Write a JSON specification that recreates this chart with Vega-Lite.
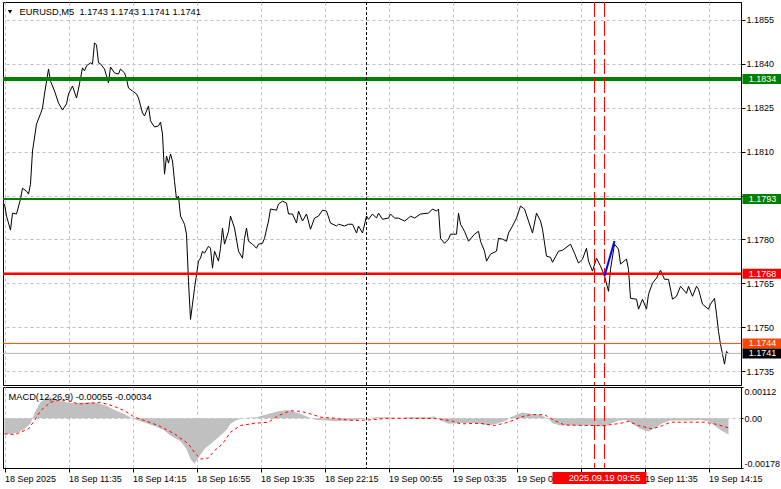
{
 "$schema": "https://vega.github.io/schema/vega-lite/v6.json",
 "padding": {"left": 0, "top": 1, "right": 0, "bottom": 0},
 "background": "#ffffff",
 "spacing": 2,
 "bounds": "flush",
 "config": {
  "font": "Liberation Sans",
  "view": {"stroke": "#000000", "strokeWidth": 1},
  "axis": {"labelFont": "Liberation Sans", "labelFontSize": 9, "labelColor": "#000000", "tickColor": "#000000", "domainColor": "#000000", "gridColor": "#c0c0c0", "gridDash": [3, 3], "gridWidth": 1, "tickSize": 4, "labelPadding": 2, "labelOverlap": false},
  "text": {"font": "Liberation Sans", "fontSize": 9}
 },
 "datasets": {
  "one": [{}],
  "price": [
   {"t":"2025-09-18T08:55Z","p":1.17921},{"t":"2025-09-18T09:00Z","p":1.1788},{"t":"2025-09-18T09:10Z","p":1.17832},{"t":"2025-09-18T09:15Z","p":1.1789},{"t":"2025-09-18T09:25Z","p":1.17887},{"t":"2025-09-18T09:35Z","p":1.17938},{"t":"2025-09-18T09:40Z","p":1.17975},{"t":"2025-09-18T09:50Z","p":1.17965},{"t":"2025-09-18T09:55Z","p":1.17955},{"t":"2025-09-18T10:00Z","p":1.17989},{"t":"2025-09-18T10:05Z","p":1.18102},{"t":"2025-09-18T10:15Z","p":1.18194},{"t":"2025-09-18T10:25Z","p":1.18229},{"t":"2025-09-18T10:30Z","p":1.18249},{"t":"2025-09-18T10:35Z","p":1.18297},{"t":"2025-09-18T10:45Z","p":1.18382},{"t":"2025-09-18T10:50Z","p":1.18341},{"t":"2025-09-18T11:00Z","p":1.18307},{"t":"2025-09-18T11:10Z","p":1.18266},{"t":"2025-09-18T11:20Z","p":1.18242},{"t":"2025-09-18T11:30Z","p":1.18263},{"t":"2025-09-18T11:35Z","p":1.18297},{"t":"2025-09-18T11:45Z","p":1.18324},{"t":"2025-09-18T11:55Z","p":1.18283},{"t":"2025-09-18T12:00Z","p":1.18314},{"t":"2025-09-18T12:10Z","p":1.18386},{"t":"2025-09-18T12:15Z","p":1.18376},{"t":"2025-09-18T12:20Z","p":1.18393},{"t":"2025-09-18T12:30Z","p":1.18403},{"t":"2025-09-18T12:35Z","p":1.184},{"t":"2025-09-18T12:40Z","p":1.18471},{"t":"2025-09-18T12:45Z","p":1.18465},{"t":"2025-09-18T12:50Z","p":1.18403},{"t":"2025-09-18T12:55Z","p":1.184},{"t":"2025-09-18T13:05Z","p":1.18382},{"t":"2025-09-18T13:15Z","p":1.18335},{"t":"2025-09-18T13:20Z","p":1.18389},{"t":"2025-09-18T13:30Z","p":1.18369},{"t":"2025-09-18T13:40Z","p":1.18365},{"t":"2025-09-18T13:45Z","p":1.18382},{"t":"2025-09-18T13:55Z","p":1.18369},{"t":"2025-09-18T14:00Z","p":1.18348},{"t":"2025-09-18T14:05Z","p":1.18317},{"t":"2025-09-18T14:15Z","p":1.18307},{"t":"2025-09-18T14:25Z","p":1.18297},{"t":"2025-09-18T14:30Z","p":1.18283},{"t":"2025-09-18T14:40Z","p":1.18232},{"t":"2025-09-18T14:45Z","p":1.18222},{"t":"2025-09-18T14:55Z","p":1.18256},{"t":"2025-09-18T15:00Z","p":1.18205},{"t":"2025-09-18T15:10Z","p":1.18184},{"t":"2025-09-18T15:20Z","p":1.18188},{"t":"2025-09-18T15:25Z","p":1.18201},{"t":"2025-09-18T15:30Z","p":1.1816},{"t":"2025-09-18T15:35Z","p":1.18023},{"t":"2025-09-18T15:40Z","p":1.18085},{"t":"2025-09-18T15:45Z","p":1.18061},{"t":"2025-09-18T15:50Z","p":1.18092},{"t":"2025-09-18T15:55Z","p":1.18068},{"t":"2025-09-18T16:00Z","p":1.17999},{"t":"2025-09-18T16:05Z","p":1.17938},{"t":"2025-09-18T16:10Z","p":1.17948},{"t":"2025-09-18T16:15Z","p":1.1788},{"t":"2025-09-18T16:25Z","p":1.17852},{"t":"2025-09-18T16:30Z","p":1.17818},{"t":"2025-09-18T16:35Z","p":1.17657},{"t":"2025-09-18T16:40Z","p":1.17527},{"t":"2025-09-18T16:45Z","p":1.17579},{"t":"2025-09-18T16:50Z","p":1.17633},{"t":"2025-09-18T17:00Z","p":1.17726},{"t":"2025-09-18T17:05Z","p":1.17736},{"t":"2025-09-18T17:10Z","p":1.1776},{"t":"2025-09-18T17:15Z","p":1.17753},{"t":"2025-09-18T17:25Z","p":1.17777},{"t":"2025-09-18T17:30Z","p":1.1777},{"t":"2025-09-18T17:35Z","p":1.17702},{"t":"2025-09-18T17:40Z","p":1.1776},{"t":"2025-09-18T17:50Z","p":1.17726},{"t":"2025-09-18T17:55Z","p":1.1777},{"t":"2025-09-18T18:00Z","p":1.17839},{"t":"2025-09-18T18:05Z","p":1.17784},{"t":"2025-09-18T18:15Z","p":1.17828},{"t":"2025-09-18T18:20Z","p":1.1788},{"t":"2025-09-18T18:30Z","p":1.17839},{"t":"2025-09-18T18:40Z","p":1.1776},{"t":"2025-09-18T18:50Z","p":1.17736},{"t":"2025-09-18T18:55Z","p":1.17804},{"t":"2025-09-18T19:00Z","p":1.17839},{"t":"2025-09-18T19:05Z","p":1.17794},{"t":"2025-09-18T19:15Z","p":1.17784},{"t":"2025-09-18T19:25Z","p":1.1777},{"t":"2025-09-18T19:30Z","p":1.17784},{"t":"2025-09-18T19:40Z","p":1.17787},{"t":"2025-09-18T19:45Z","p":1.17804},{"t":"2025-09-18T19:55Z","p":1.17863},{"t":"2025-09-18T20:00Z","p":1.17904},{"t":"2025-09-18T20:15Z","p":1.179},{"t":"2025-09-18T20:20Z","p":1.17921},{"t":"2025-09-18T20:30Z","p":1.17931},{"t":"2025-09-18T20:40Z","p":1.17924},{"t":"2025-09-18T20:45Z","p":1.17887},{"t":"2025-09-18T20:55Z","p":1.17887},{"t":"2025-09-18T21:05Z","p":1.17856},{"t":"2025-09-18T21:10Z","p":1.17897},{"t":"2025-09-18T21:20Z","p":1.17863},{"t":"2025-09-18T21:30Z","p":1.17887},{"t":"2025-09-18T21:40Z","p":1.17835},{"t":"2025-09-18T21:50Z","p":1.17873},{"t":"2025-09-18T22:00Z","p":1.1788},{"t":"2025-09-18T22:10Z","p":1.179},{"t":"2025-09-18T22:20Z","p":1.17897},{"t":"2025-09-18T22:30Z","p":1.17856},{"t":"2025-09-18T22:45Z","p":1.17846},{"t":"2025-09-18T22:50Z","p":1.17852},{"t":"2025-09-18T23:05Z","p":1.17846},{"t":"2025-09-18T23:15Z","p":1.17852},{"t":"2025-09-18T23:25Z","p":1.17852},{"t":"2025-09-18T23:35Z","p":1.17822},{"t":"2025-09-18T23:40Z","p":1.17846},{"t":"2025-09-18T23:50Z","p":1.17822},{"t":"2025-09-19T00:00Z","p":1.1788},{"t":"2025-09-19T00:05Z","p":1.17869},{"t":"2025-09-19T00:15Z","p":1.17887},{"t":"2025-09-19T00:25Z","p":1.17873},{"t":"2025-09-19T00:30Z","p":1.1789},{"t":"2025-09-19T00:40Z","p":1.17869},{"t":"2025-09-19T00:55Z","p":1.17873},{"t":"2025-09-19T01:00Z","p":1.17887},{"t":"2025-09-19T01:10Z","p":1.17873},{"t":"2025-09-19T01:20Z","p":1.17873},{"t":"2025-09-19T01:35Z","p":1.17863},{"t":"2025-09-19T01:45Z","p":1.17873},{"t":"2025-09-19T01:50Z","p":1.1788},{"t":"2025-09-19T02:00Z","p":1.17873},{"t":"2025-09-19T02:15Z","p":1.17887},{"t":"2025-09-19T02:35Z","p":1.1789},{"t":"2025-09-19T02:45Z","p":1.17904},{"t":"2025-09-19T02:55Z","p":1.17897},{"t":"2025-09-19T03:00Z","p":1.17904},{"t":"2025-09-19T03:05Z","p":1.17804},{"t":"2025-09-19T03:15Z","p":1.17787},{"t":"2025-09-19T03:25Z","p":1.17801},{"t":"2025-09-19T03:30Z","p":1.17818},{"t":"2025-09-19T03:45Z","p":1.17818},{"t":"2025-09-19T03:50Z","p":1.1789},{"t":"2025-09-19T03:55Z","p":1.17852},{"t":"2025-09-19T04:05Z","p":1.17828},{"t":"2025-09-19T04:15Z","p":1.17794},{"t":"2025-09-19T04:30Z","p":1.17818},{"t":"2025-09-19T04:40Z","p":1.17828},{"t":"2025-09-19T04:45Z","p":1.17794},{"t":"2025-09-19T04:55Z","p":1.1776},{"t":"2025-09-19T05:00Z","p":1.17726},{"t":"2025-09-19T05:10Z","p":1.1775},{"t":"2025-09-19T05:25Z","p":1.1776},{"t":"2025-09-19T05:30Z","p":1.17804},{"t":"2025-09-19T05:40Z","p":1.17801},{"t":"2025-09-19T05:50Z","p":1.17794},{"t":"2025-09-19T05:55Z","p":1.17822},{"t":"2025-09-19T06:05Z","p":1.17846},{"t":"2025-09-19T06:15Z","p":1.17873},{"t":"2025-09-19T06:25Z","p":1.17914},{"t":"2025-09-19T06:35Z","p":1.17904},{"t":"2025-09-19T06:45Z","p":1.17863},{"t":"2025-09-19T06:55Z","p":1.17822},{"t":"2025-09-19T07:05Z","p":1.1789},{"t":"2025-09-19T07:15Z","p":1.17863},{"t":"2025-09-19T07:20Z","p":1.17835},{"t":"2025-09-19T07:30Z","p":1.17743},{"t":"2025-09-19T07:40Z","p":1.17739},{"t":"2025-09-19T07:45Z","p":1.17722},{"t":"2025-09-19T08:00Z","p":1.1776},{"t":"2025-09-19T08:10Z","p":1.17763},{"t":"2025-09-19T08:30Z","p":1.17784},{"t":"2025-09-19T08:40Z","p":1.17753},{"t":"2025-09-19T08:50Z","p":1.17719},{"t":"2025-09-19T09:00Z","p":1.17733},{"t":"2025-09-19T09:10Z","p":1.1777},{"t":"2025-09-19T09:15Z","p":1.17726},{"t":"2025-09-19T09:25Z","p":1.17692},{"t":"2025-09-19T09:35Z","p":1.17736},{"t":"2025-09-19T09:45Z","p":1.17709},{"t":"2025-09-19T09:55Z","p":1.17675},{"t":"2025-09-19T10:05Z","p":1.17623},{"t":"2025-09-19T10:10Z","p":1.17698},{"t":"2025-09-19T10:20Z","p":1.17784},{"t":"2025-09-19T10:30Z","p":1.17767},{"t":"2025-09-19T10:35Z","p":1.17716},{"t":"2025-09-19T10:50Z","p":1.17733},{"t":"2025-09-19T10:55Z","p":1.17698},{"t":"2025-09-19T11:00Z","p":1.17599},{"t":"2025-09-19T11:15Z","p":1.17596},{"t":"2025-09-19T11:20Z","p":1.17562},{"t":"2025-09-19T11:30Z","p":1.17596},{"t":"2025-09-19T11:40Z","p":1.17562},{"t":"2025-09-19T11:45Z","p":1.17613},{"t":"2025-09-19T11:55Z","p":1.17651},{"t":"2025-09-19T12:05Z","p":1.17668},{"t":"2025-09-19T12:15Z","p":1.17695},{"t":"2025-09-19T12:25Z","p":1.17664},{"t":"2025-09-19T12:35Z","p":1.17664},{"t":"2025-09-19T12:45Z","p":1.17596},{"t":"2025-09-19T12:55Z","p":1.17606},{"t":"2025-09-19T13:05Z","p":1.1764},{"t":"2025-09-19T13:20Z","p":1.17616},{"t":"2025-09-19T13:25Z","p":1.1764},{"t":"2025-09-19T13:35Z","p":1.17606},{"t":"2025-09-19T13:45Z","p":1.1764},{"t":"2025-09-19T13:50Z","p":1.1763},{"t":"2025-09-19T14:00Z","p":1.17579},{"t":"2025-09-19T14:15Z","p":1.17562},{"t":"2025-09-19T14:20Z","p":1.17579},{"t":"2025-09-19T14:30Z","p":1.17599},{"t":"2025-09-19T14:35Z","p":1.17545},{"t":"2025-09-19T14:40Z","p":1.17486},{"t":"2025-09-19T14:45Z","p":1.17442},{"t":"2025-09-19T14:50Z","p":1.17408},{"t":"2025-09-19T14:55Z","p":1.17374},{"t":"2025-09-19T15:00Z","p":1.17418},{"t":"2025-09-19T15:05Z","p":1.17411}
  ],
  "hist": [
   {"t":"2025-09-18T08:55Z","v":-0.00056},{"t":"2025-09-18T09:10Z","v":-0.00056},{"t":"2025-09-18T09:30Z","v":-0.0005},{"t":"2025-09-18T09:45Z","v":-0.00038},{"t":"2025-09-18T10:00Z","v":-0.0002},{"t":"2025-09-18T10:05Z","v":0},{"t":"2025-09-18T10:15Z","v":0.00033},{"t":"2025-09-18T10:25Z","v":0.00057},{"t":"2025-09-18T10:40Z","v":0.00073},{"t":"2025-09-18T10:50Z","v":0.00075},{"t":"2025-09-18T11:10Z","v":0.00066},{"t":"2025-09-18T11:30Z","v":0.00057},{"t":"2025-09-18T11:45Z","v":0.00054},{"t":"2025-09-18T12:05Z","v":0.00056},{"t":"2025-09-18T12:35Z","v":0.00057},{"t":"2025-09-18T12:50Z","v":0.00054},{"t":"2025-09-18T13:10Z","v":0.00045},{"t":"2025-09-18T13:30Z","v":0.0003},{"t":"2025-09-18T13:50Z","v":0.00018},{"t":"2025-09-18T14:10Z","v":0.00004},{"t":"2025-09-18T14:25Z","v":-0.00006},{"t":"2025-09-18T14:50Z","v":-0.00018},{"t":"2025-09-18T15:15Z","v":-0.0003},{"t":"2025-09-18T15:35Z","v":-0.00044},{"t":"2025-09-18T15:50Z","v":-0.00062},{"t":"2025-09-18T16:15Z","v":-0.00082},{"t":"2025-09-18T16:30Z","v":-0.0011},{"t":"2025-09-18T16:40Z","v":-0.00146},{"t":"2025-09-18T16:50Z","v":-0.00163},{"t":"2025-09-18T17:00Z","v":-0.0014},{"t":"2025-09-18T17:15Z","v":-0.0011},{"t":"2025-09-18T17:30Z","v":-0.00092},{"t":"2025-09-18T17:50Z","v":-0.00068},{"t":"2025-09-18T18:10Z","v":-0.00042},{"t":"2025-09-18T18:20Z","v":-0.0002},{"t":"2025-09-18T18:35Z","v":-0.00006},{"t":"2025-09-18T18:55Z","v":0.00001},{"t":"2025-09-18T19:25Z","v":0.00004},{"t":"2025-09-18T19:40Z","v":0.0001},{"t":"2025-09-18T20:00Z","v":0.00018},{"t":"2025-09-18T20:20Z","v":0.00025},{"t":"2025-09-18T20:40Z","v":0.0003},{"t":"2025-09-18T20:55Z","v":0.00025},{"t":"2025-09-18T21:15Z","v":0.00016},{"t":"2025-09-18T21:35Z","v":0.00004},{"t":"2025-09-18T21:55Z","v":-0.00006},{"t":"2025-09-18T22:20Z","v":-0.00008},{"t":"2025-09-18T22:45Z","v":-0.00011},{"t":"2025-09-18T23:10Z","v":-0.00008},{"t":"2025-09-18T23:35Z","v":-0.00006},{"t":"2025-09-19T00:00Z","v":0},{"t":"2025-09-19T00:25Z","v":0.00004},{"t":"2025-09-19T00:50Z","v":0.00004},{"t":"2025-09-19T01:15Z","v":0.00001},{"t":"2025-09-19T01:50Z","v":0.00004},{"t":"2025-09-19T02:30Z","v":0.00004},{"t":"2025-09-19T02:50Z","v":0.00006},{"t":"2025-09-19T03:05Z","v":-0.00008},{"t":"2025-09-19T03:25Z","v":-0.0002},{"t":"2025-09-19T03:45Z","v":-0.00018},{"t":"2025-09-19T04:10Z","v":-0.00017},{"t":"2025-09-19T04:35Z","v":-0.00018},{"t":"2025-09-19T05:05Z","v":-0.00026},{"t":"2025-09-19T05:25Z","v":-0.0002},{"t":"2025-09-19T05:50Z","v":-0.00008},{"t":"2025-09-19T06:00Z","v":0.00004},{"t":"2025-09-19T06:15Z","v":0.00013},{"t":"2025-09-19T06:30Z","v":0.00021},{"t":"2025-09-19T06:50Z","v":0.00016},{"t":"2025-09-19T07:15Z","v":0.00013},{"t":"2025-09-19T07:35Z","v":-0.00002},{"t":"2025-09-19T07:45Z","v":-0.00018},{"t":"2025-09-19T08:05Z","v":-0.00026},{"t":"2025-09-19T08:30Z","v":-0.00026},{"t":"2025-09-19T08:55Z","v":-0.00026},{"t":"2025-09-19T09:20Z","v":-0.00026},{"t":"2025-09-19T09:55Z","v":-0.0003},{"t":"2025-09-19T10:10Z","v":-0.0002},{"t":"2025-09-19T10:30Z","v":-0.00008},{"t":"2025-09-19T10:50Z","v":-0.00006},{"t":"2025-09-19T11:05Z","v":-0.0002},{"t":"2025-09-19T11:25Z","v":-0.00038},{"t":"2025-09-19T11:45Z","v":-0.00047},{"t":"2025-09-19T12:05Z","v":-0.00032},{"t":"2025-09-19T12:20Z","v":-0.00018},{"t":"2025-09-19T12:40Z","v":-0.00008},{"t":"2025-09-19T13:05Z","v":-0.00008},{"t":"2025-09-19T13:30Z","v":-0.00008},{"t":"2025-09-19T13:55Z","v":-0.00006},{"t":"2025-09-19T14:15Z","v":-0.00011},{"t":"2025-09-19T14:30Z","v":-0.00026},{"t":"2025-09-19T14:45Z","v":-0.00042},{"t":"2025-09-19T15:05Z","v":-0.00058}
  ],
  "signal": [
   {"t":"2025-09-18T08:55Z","v":-0.00056},{"t":"2025-09-18T09:20Z","v":-0.00058},{"t":"2025-09-18T09:35Z","v":-0.0005},{"t":"2025-09-18T09:55Z","v":-0.00038},{"t":"2025-09-18T10:10Z","v":-0.00008},{"t":"2025-09-18T10:25Z","v":0.00027},{"t":"2025-09-18T10:50Z","v":0.00057},{"t":"2025-09-18T11:15Z","v":0.00066},{"t":"2025-09-18T11:35Z","v":0.00063},{"t":"2025-09-18T12:00Z","v":0.00051},{"t":"2025-09-18T12:30Z","v":0.00054},{"t":"2025-09-18T12:55Z","v":0.00057},{"t":"2025-09-18T13:25Z","v":0.00045},{"t":"2025-09-18T13:55Z","v":0.00027},{"t":"2025-09-18T14:20Z","v":0.00004},{"t":"2025-09-18T14:45Z","v":-0.00008},{"t":"2025-09-18T15:20Z","v":-0.00026},{"t":"2025-09-18T16:00Z","v":-0.00056},{"t":"2025-09-18T16:35Z","v":-0.00092},{"t":"2025-09-18T16:50Z","v":-0.00122},{"t":"2025-09-18T17:05Z","v":-0.00146},{"t":"2025-09-18T17:25Z","v":-0.00142},{"t":"2025-09-18T17:40Z","v":-0.00116},{"t":"2025-09-18T18:00Z","v":-0.00092},{"t":"2025-09-18T18:20Z","v":-0.0005},{"t":"2025-09-18T18:45Z","v":-0.00026},{"t":"2025-09-18T19:20Z","v":-0.00018},{"t":"2025-09-18T19:55Z","v":-0.00014},{"t":"2025-09-18T20:20Z","v":0.0001},{"t":"2025-09-18T20:50Z","v":0.00027},{"t":"2025-09-18T21:15Z","v":0.00025},{"t":"2025-09-18T21:35Z","v":0.00018},{"t":"2025-09-18T22:05Z","v":0.00004},{"t":"2025-09-18T22:40Z","v":0},{"t":"2025-09-18T23:10Z","v":-0.00006},{"t":"2025-09-18T23:30Z","v":-0.00008},{"t":"2025-09-19T00:05Z","v":-0.00006},{"t":"2025-09-19T00:55Z","v":0},{"t":"2025-09-19T01:50Z","v":0},{"t":"2025-09-19T02:50Z","v":-0.00001},{"t":"2025-09-19T03:30Z","v":-0.00008},{"t":"2025-09-19T03:55Z","v":-0.0002},{"t":"2025-09-19T04:45Z","v":-0.00018},{"t":"2025-09-19T05:20Z","v":-0.00026},{"t":"2025-09-19T05:55Z","v":-0.00014},{"t":"2025-09-19T06:25Z","v":0.00004},{"t":"2025-09-19T06:50Z","v":0.00013},{"t":"2025-09-19T07:25Z","v":0.00013},{"t":"2025-09-19T07:50Z","v":-0.00008},{"t":"2025-09-19T08:15Z","v":-0.00024},{"t":"2025-09-19T09:20Z","v":-0.00026},{"t":"2025-09-19T09:55Z","v":-0.00026},{"t":"2025-09-19T10:35Z","v":-0.00018},{"t":"2025-09-19T10:55Z","v":-0.00011},{"t":"2025-09-19T11:20Z","v":-0.00026},{"t":"2025-09-19T11:55Z","v":-0.00038},{"t":"2025-09-19T12:20Z","v":-0.00026},{"t":"2025-09-19T12:40Z","v":-0.00014},{"t":"2025-09-19T14:05Z","v":-0.00014},{"t":"2025-09-19T14:30Z","v":-0.0002},{"t":"2025-09-19T15:05Z","v":-0.00034}
  ],
  "blue": [{"t":"2025-09-19T09:55Z","p":1.17675},{"t":"2025-09-19T10:20Z","p":1.17795}],
  "stamps": [{"t":"2025-09-19T09:30Z"},{"t":"2025-09-19T09:55Z"}],
  "levels": [
   {"v":1.18348,"label":"1.1834","kind":"r2"},
   {"v":1.17938,"label":"1.1793","kind":"r1"},
   {"v":1.17683,"label":"1.1768","kind":"s1"},
   {"v":1.17445,"label":"1.1744","kind":"ask"},
   {"v":1.17411,"label":"1.1741","kind":"bid"}
  ]
 },
 "vconcat": [
  {
   "width": 738,
   "height": 383,
   "layer": [
    {
     "data": {"name": "price"},
     "mark": {"type": "line", "color": "#000000", "strokeWidth": 1},
     "encoding": {
      "x": {"field": "t", "type": "temporal", "scale": {"type": "utc", "domain": [1758185475000, 1758296175000]},
            "axis": {"title": null, "labels": false, "ticks": false, "domain": false, "grid": true,
                     "values": [1758185700000,1758190500000,1758195300000,1758200100000,1758204900000,1758209700000,1758214500000,1758219300000,1758224100000,1758228900000,1758233700000,1758238500000,1758243300000,1758248100000,1758252900000,1758257700000,1758262500000,1758267300000,1758272100000,1758276900000,1758281700000,1758286500000,1758291300000]}},
      "y": {"field": "p", "type": "quantitative", "scale": {"domain": [1.17303, 1.18611], "nice": false, "zero": false},
            "axis": {"orient": "right", "title": null, "grid": true, "tickSize": 4, "labelPadding": 1,
                     "labelExpr": "abs(datum.value - 1.1795) < 0.00001 ? '' : format(datum.value, '.4f')",
                     "values": [1.1855,1.184,1.1825,1.181,1.1795,1.178,1.1765,1.175,1.1735]}}
     }
    },
    {"data": {"name": "one"}, "mark": {"type": "rule", "color": "#008000", "strokeWidth": 4}, "encoding": {"y": {"datum": 1.18348, "type": "quantitative"}}},
    {"data": {"name": "one"}, "mark": {"type": "rule", "color": "#008000", "strokeWidth": 2}, "encoding": {"y": {"datum": 1.17938, "type": "quantitative"}}},
    {"data": {"name": "one"}, "mark": {"type": "rule", "color": "#ff0000", "strokeWidth": 2.5}, "encoding": {"y": {"datum": 1.17683, "type": "quantitative"}}},
    {"data": {"name": "one"}, "mark": {"type": "rule", "color": "#ff4500", "strokeWidth": 1}, "encoding": {"y": {"datum": 1.17445, "type": "quantitative"}}},
    {"data": {"name": "one"}, "mark": {"type": "rule", "color": "#b4b4b4", "strokeWidth": 1}, "encoding": {"y": {"datum": 1.17411, "type": "quantitative"}}},
    {"data": {"name": "one"}, "mark": {"type": "rule", "color": "#000000", "strokeWidth": 1, "strokeDash": [3, 2]},
     "encoding": {"x": {"datum": {"year": 2025, "month": 9, "date": 19, "hours": 0, "minutes": 0, "utc": true}, "type": "temporal"}}},
    {"data": {"name": "stamps"}, "mark": {"type": "rule", "color": "#ff0000", "strokeWidth": 1, "strokeDash": [15, 4]},
     "encoding": {"x": {"field": "t", "type": "temporal"}}},
    {"data": {"name": "blue"}, "mark": {"type": "line", "color": "#0000ff", "strokeWidth": 2},
     "encoding": {"x": {"field": "t", "type": "temporal"}, "y": {"field": "p", "type": "quantitative"}}},
    {"data": {"name": "levels"}, "mark": {"type": "tick", "orient": "horizontal", "size": 40, "thickness": 10, "opacity": 1},
     "encoding": {"x": {"datum": {"year": 2025, "month": 9, "date": 19, "hours": 16, "minutes": 30, "utc": true}, "type": "temporal"},
                  "y": {"field": "v", "type": "quantitative"},
                  "color": {"field": "kind", "type": "nominal", "legend": null,
                            "scale": {"domain": ["r2", "r1", "s1", "ask", "bid"], "range": ["#008000", "#008000", "#ff0000", "#ff4500", "#000000"]}}}},
    {"data": {"name": "levels"}, "mark": {"type": "text", "color": "#ffffff", "align": "center", "baseline": "middle", "fontSize": 9},
     "encoding": {"x": {"datum": {"year": 2025, "month": 9, "date": 19, "hours": 16, "minutes": 30, "utc": true}, "type": "temporal"},
                  "y": {"field": "v", "type": "quantitative"},
                  "text": {"field": "label", "type": "nominal"}}},
    {"data": {"name": "one"}, "mark": {"type": "point", "shape": "triangle-down", "filled": true, "color": "#000000", "size": 18, "opacity": 1},
     "encoding": {"x": {"datum": {"year": 2025, "month": 9, "date": 18, "hours": 9, "minutes": 8, "seconds": 45, "utc": true}, "type": "temporal"},
                  "y": {"datum": 1.18577, "type": "quantitative"}}},
    {"data": {"name": "one"}, "mark": {"type": "text", "text": "EURUSD,M5\u00a0 1.1743 1.1743 1.1741 1.1741", "align": "left", "baseline": "middle", "fontSize": 9.3, "color": "#000000"},
     "encoding": {"x": {"datum": {"year": 2025, "month": 9, "date": 18, "hours": 9, "minutes": 32, "seconds": 30, "utc": true}, "type": "temporal"},
                  "y": {"datum": 1.18577, "type": "quantitative"}}}
   ]
  },
  {
   "width": 738,
   "height": 81,
   "layer": [
    {
     "data": {"name": "hist"},
     "mark": {"type": "area", "color": "#c0c0c0", "opacity": 1},
     "encoding": {
      "x": {"field": "t", "type": "temporal", "scale": {"type": "utc", "domain": [1758185475000, 1758296175000]},
            "axis": {"title": null, "orient": "bottom", "grid": true, "labelAlign": "left", "labelFlush": false, "labelPadding": 2,
                     "values": [1758185700000,1758190500000,1758195300000,1758200100000,1758204900000,1758209700000,1758214500000,1758219300000,1758224100000,1758228900000,1758233700000,1758238500000,1758243300000,1758248100000,1758252900000,1758257700000,1758262500000,1758267300000,1758272100000,1758276900000,1758281700000,1758286500000,1758291300000],
                     "labelExpr": "time(datum.value) == 1758185700000 ? '18 Sep 2025' : (time(datum.value) == 1758272100000 ? '' : ((time(datum.value) - 1758185700000) % 9600000 == 0 ? utcFormat(datum.value, '%d %b %H:%M') : ''))",
                     "tickOpacity": {"condition": {"test": "(time(datum.value) - 1758185700000) % 9600000 == 0", "value": 1}, "value": 0}}},
      "y": {"field": "v", "type": "quantitative", "scale": {"domain": [-0.00178, 0.00112], "nice": false, "zero": false},
            "axis": {"orient": "right", "title": null, "grid": true, "labelFlush": true, "tickSize": 2, "labelPadding": 1, "values": [0.00112, 0, -0.00178],
                     "labelExpr": "datum.value == 0 ? '0.00' : (datum.value > 0 ? '0.00112' : '-0.00178')",
                     "gridOpacity": {"condition": {"test": "datum.value == 0", "value": 1}, "value": 0}}},
      "y2": {"datum": 0}
     }
    },
    {"data": {"name": "signal"}, "mark": {"type": "line", "color": "#ff0000", "strokeWidth": 1, "strokeDash": [3, 3]},
     "encoding": {"x": {"field": "t", "type": "temporal"}, "y": {"field": "v", "type": "quantitative"}}},
    {"data": {"name": "one"}, "mark": {"type": "rule", "color": "#000000", "strokeWidth": 1, "strokeDash": [3, 2]},
     "encoding": {"x": {"datum": {"year": 2025, "month": 9, "date": 19, "hours": 0, "minutes": 0, "utc": true}, "type": "temporal"}}},
    {"data": {"name": "stamps"}, "mark": {"type": "rule", "color": "#ff0000", "strokeWidth": 1, "strokeDash": [15, 4]},
     "encoding": {"x": {"field": "t", "type": "temporal"}}},
    {"data": {"name": "one"}, "mark": {"type": "text", "text": "MACD(12,26,9) -0.00055 -0.00034", "align": "left", "baseline": "middle", "fontSize": 9.3, "color": "#000000"},
     "encoding": {"x": {"datum": {"year": 2025, "month": 9, "date": 18, "hours": 9, "minutes": 5, "utc": true}, "type": "temporal"},
                  "y": {"datum": 0.00075, "type": "quantitative"}}},
    {"data": {"name": "one"}, "mark": {"type": "tick", "orient": "horizontal", "size": 84, "thickness": 12, "color": "#ff0000", "opacity": 1},
     "encoding": {"x": {"datum": {"year": 2025, "month": 9, "date": 19, "hours": 9, "minutes": 30, "utc": true}, "type": "temporal"},
                  "y": {"datum": -0.00214, "type": "quantitative"}}},
    {"data": {"name": "one"}, "mark": {"type": "tick", "orient": "horizontal", "size": 84, "thickness": 12, "color": "#ff0000", "opacity": 1},
     "encoding": {"x": {"datum": {"year": 2025, "month": 9, "date": 19, "hours": 9, "minutes": 55, "utc": true}, "type": "temporal"},
                  "y": {"datum": -0.00214, "type": "quantitative"}}},
    {"data": {"name": "one"}, "mark": {"type": "text", "text": "2025.09.19 09:55", "align": "center", "baseline": "middle", "fontSize": 9.2, "color": "#ffffff"},
     "encoding": {"x": {"datum": {"year": 2025, "month": 9, "date": 19, "hours": 9, "minutes": 55, "utc": true}, "type": "temporal"},
                  "y": {"datum": -0.00214, "type": "quantitative"}}}
   ]
  }
 ]
}
